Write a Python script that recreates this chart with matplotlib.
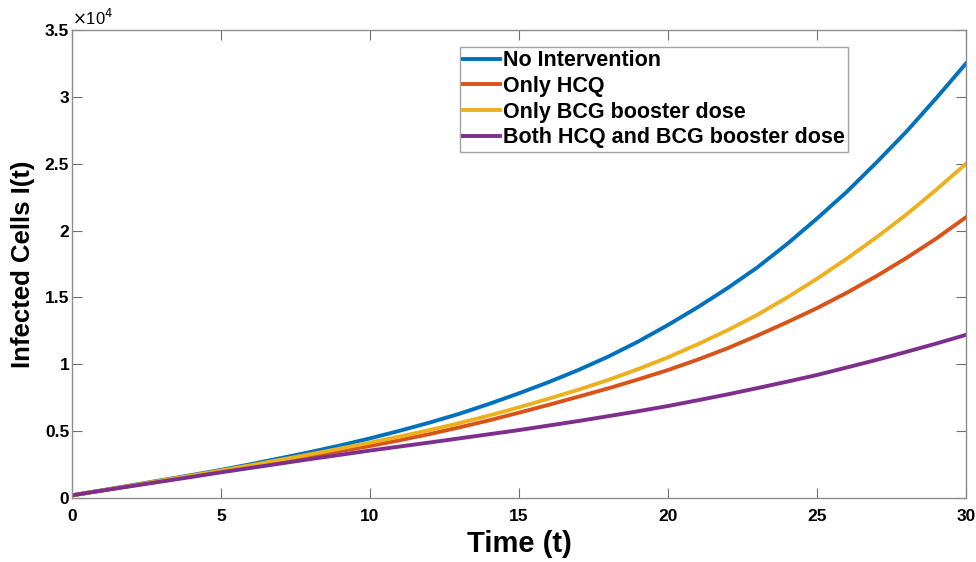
import numpy as np
import matplotlib
matplotlib.use('Agg')
import matplotlib.pyplot as plt
from matplotlib.ticker import FuncFormatter

plt.rcParams['font.family'] = ['Liberation Sans', 'DejaVu Sans']

# time points and infected cells
t = list(range(0, 31))
no_intervention = [200, 570, 950, 1330, 1710, 2100, 2530, 2980, 3440, 3930,
                   4460, 5030, 5640, 6300, 7040, 7830, 8670, 9580, 10580, 11700,
                   12940, 14270, 15700, 17250, 19000, 20900, 22900, 25100, 27400, 29900,
                   32500]
only_hcq = [200, 560, 920, 1280, 1640, 2000, 2370, 2750, 3130, 3510,
            3890, 4320, 4780, 5280, 5810, 6380, 6970, 7580, 8200, 8870,
            9570, 10350, 11200, 12150, 13150, 14200, 15350, 16600, 17950, 19400,
            21000]
only_bcg = [200, 560, 930, 1300, 1670, 2050, 2450, 2860, 3270, 3700,
            4140, 4600, 5080, 5600, 6170, 6780, 7430, 8100, 8830, 9640,
            10520, 11500, 12550, 13700, 15000, 16400, 17900, 19500, 21200, 23050,
            25000]
both = [200, 550, 890, 1230, 1570, 1920, 2250, 2580, 2910, 3230,
        3550, 3850, 4150, 4460, 4770, 5080, 5420, 5760, 6120, 6490,
        6880, 7310, 7750, 8220, 8700, 9200, 9760, 10330, 10930, 11550,
        12200]

labels = ['No Intervention', 'Only HCQ', 'Only BCG booster dose', 'Both HCQ and BCG booster dose']
colors = ['#0072BD', '#D95319', '#EDB120', '#7E2F8E']

fig = plt.figure(figsize=(9.76, 5.62), dpi=100)
ax = fig.add_axes([72/976, 64/562, 894/976, 468/562])

for y, lab, c in zip([no_intervention, only_hcq, only_bcg, both], labels, colors):
    ax.plot(t, y, color=c, lw=2.8, label=lab)

ax.set_xlim(0, 30)
ax.set_ylim(0, 35000)
ax.set_xticks(np.arange(0, 31, 5))
ax.set_yticks(np.arange(0, 35001, 5000))
ax.yaxis.set_major_formatter(FuncFormatter(lambda v, p: '%g' % (v / 1e4)))

for s in ax.spines.values():
    s.set_color('#8c8c8c')
    s.set_linewidth(1.0)
ax.tick_params(direction='in', top=True, right=True, length=7, color='#707070',
               labelsize=12.5)
ax.tick_params(axis='x', pad=8)
ax.tick_params(axis='y', pad=2)
for lbl in ax.get_xticklabels() + ax.get_yticklabels():
    lbl.set_fontweight('bold')

ax.text(0.0, 1.005, r'$\times$10$^{4}$', transform=ax.transAxes, fontsize=12,
        ha='left', va='bottom')

ax.set_xlabel('Time (t)', fontsize=21, fontweight='bold', labelpad=4)
ax.set_ylabel('Infected Cells I(t)', fontsize=18.5, fontweight='bold', labelpad=7)

leg = ax.legend(loc='upper left', bbox_to_anchor=(388/894, 1 - 17/468),
                prop={'weight': 'bold', 'size': 15.5}, frameon=True, fancybox=False,
                handlelength=1.7, handletextpad=0.15, borderpad=0.15, labelspacing=0.22,
                borderaxespad=0)
leg.get_frame().set_edgecolor('#8c8c8c')
leg.get_frame().set_linewidth(1.0)

fig.savefig('out.png', dpi=100)
